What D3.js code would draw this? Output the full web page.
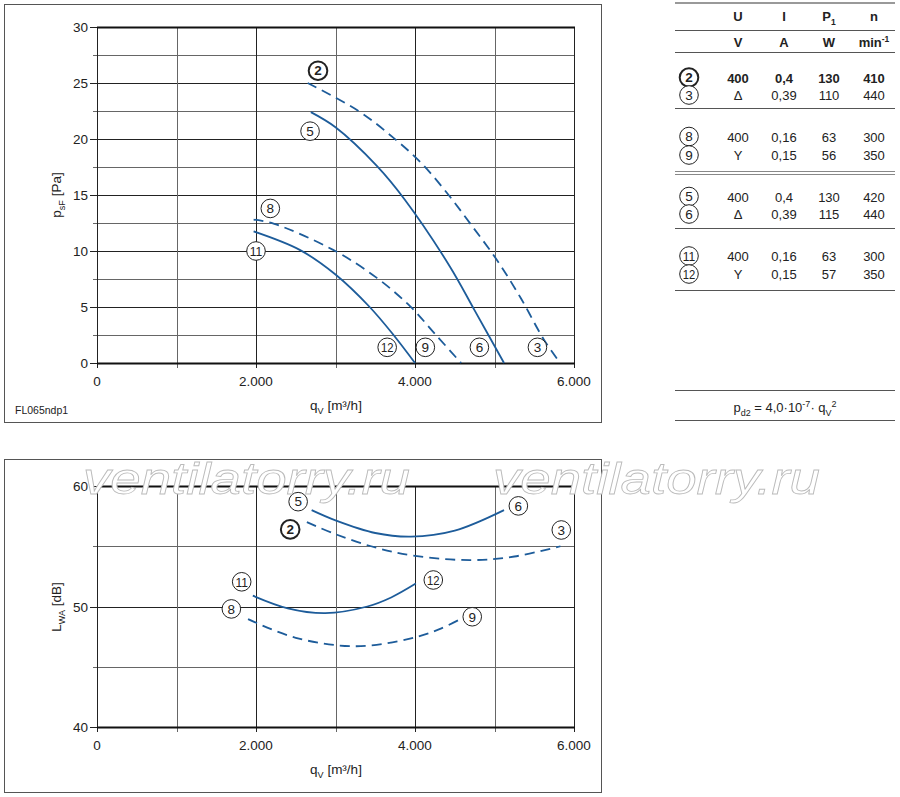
<!DOCTYPE html>
<html>
<head>
<meta charset="utf-8">
<script src="https://cdn.jsdelivr.net/npm/d3@7/dist/d3.min.js"></script>
<style>
  body { margin: 0; background: #fff; }
  svg { display: block; font-family: "Liberation Sans", Arial, sans-serif; }
</style>
</head>
<body>
<div class="js-container"></div>
<script>
;(function() {
  'use strict';

  // ---- data ----
  var qTicks = [0, 2000, 4000, 6000];
  var qTickLabels = ['0', '2.000', '4.000', '6.000'];
  var qGrid = [0, 1000, 2000, 3000, 4000, 5000, 6000];

  var pTicks = [0, 5, 10, 15, 20, 25, 30];
  var pGrid = [0, 2.5, 5, 7.5, 10, 12.5, 15, 17.5, 20, 22.5, 25, 27.5, 30];

  var lTicks = [40, 50, 60];
  var lGrid = [40, 45, 50, 55, 60];

  // static pressure psF [Pa] over qV [m3/h]
  var psf2to3 = [[2650, 25.0], [3290, 22.5], [3730, 20.1], [4080, 17.85], [4400, 15.2], [4700, 12.4], [5030, 9.2], [5330, 5.8], [5620, 2.1], [5810, 0.15]];
  var psf5to6 = [[2690, 22.4], [3000, 21.05], [3520, 17.6], [3870, 14.6], [4440, 8.6], [4750, 4.7], [5120, 0]];
  var psf8to9 = [[1970, 12.8], [2220, 12.45], [2970, 10.1], [3520, 7.6], [3940, 5.05], [4270, 2.45], [4580, 0]];
  var psf11to12 = [[1970, 11.75], [2550, 10.1], [3000, 7.9], [3430, 5.0], [3730, 2.5], [4000, 0]];

  // sound power LWA [dB] over qV [m3/h]
  var lwa2to3 = [[2640, 57.0], [3000, 56.0], [3500, 54.9], [4000, 54.2], [4700, 53.85], [5250, 54.15], [5830, 55.0]];
  var lwa5to6 = [[2700, 58.0], [3000, 57.15], [3500, 56.1], [3950, 55.8], [4500, 56.3], [5120, 58.0]];
  var lwa8to9 = [[1900, 48.95], [2500, 47.4], [3260, 46.7], [3950, 47.35], [4300, 48.1], [4600, 49.05]];
  var lwa11to12 = [[1960, 50.9], [2400, 49.85], [2870, 49.45], [3400, 50.0], [3700, 50.75], [4010, 51.9]];

  var psfLabels = [
    {id: '2', q: 2780, v: 26.1, bold: true},
    {id: '5', q: 2680, v: 20.7},
    {id: '8', q: 2180, v: 13.8},
    {id: '11', q: 2000, v: 10.0},
    {id: '12', q: 3650, v: 1.4},
    {id: '9', q: 4130, v: 1.4},
    {id: '6', q: 4810, v: 1.4},
    {id: '3', q: 5540, v: 1.4}
  ];
  var lwaLabels = [
    {id: '5', q: 2530, v: 58.7},
    {id: '6', q: 5300, v: 58.35},
    {id: '2', q: 2430, v: 56.4, bold: true},
    {id: '3', q: 5840, v: 56.35},
    {id: '11', q: 1820, v: 52.05},
    {id: '12', q: 4230, v: 52.2},
    {id: '8', q: 1690, v: 49.8},
    {id: '9', q: 4720, v: 49.15}
  ];

  // operating table
  var tableIds = ['2', '3', '8', '9', '5', '6', '11', '12'];
  var tableU = ['400', '\u0394', '400', 'Y', '400', '\u0394', '400', 'Y'];
  var tableI = ['0,4', '0,39', '0,16', '0,15', '0,4', '0,39', '0,16', '0,15'];
  var tableP = ['130', '110', '63', '56', '130', '115', '63', '57'];
  var tableN = ['410', '440', '300', '350', '420', '440', '300', '350'];

  var blue = '#1d5c9a';
  var ink = '#222';

  var svg = d3.select('.js-container').append('svg')
      .attr('width', 900)
      .attr('height', 797);

  var x = d3.scaleLinear().domain([0, 6000]).range([97, 574]);

  // ---- frames ----
  svg.append('rect').attr('x', 4.5).attr('y', 4.5).attr('width', 597).attr('height', 418)
      .attr('fill', 'none').attr('stroke', '#555');
  svg.append('rect').attr('x', 4.5).attr('y', 459.5).attr('width', 597).attr('height', 333)
      .attr('fill', 'none').attr('stroke', '#555');

  /**
   * Draws grid, ticks and tick labels for one chart.
   */
  function drawGrid(y, grid, ticks, majorStep) {
    var g = svg.append('g');
    var y0 = y.range()[0], y1 = y.range()[1];

    g.selectAll('.h').data(grid).enter().append('line')
        .attr('x1', function(d) { return ticks.indexOf(d) >= 0 ? 90 : 93; })
        .attr('x2', x(6000))
        .attr('y1', function(d) { return Math.round(y(d)) + 0.5; })
        .attr('y2', function(d) { return Math.round(y(d)) + 0.5; })
        .attr('stroke', function(d) { return d % majorStep === 0 ? '#222' : '#666'; })
        .attr('stroke-width', 1);

    g.selectAll('.v').data(qGrid).enter().append('line')
        .attr('x1', function(d) { return Math.round(x(d)) + 0.5; })
        .attr('x2', function(d) { return Math.round(x(d)) + 0.5; })
        .attr('y1', y1)
        .attr('y2', y0 + 5)
        .attr('stroke', function(d) { return d % 2000 === 0 ? '#222' : '#666'; })
        .attr('stroke-width', 1);

    // heavier top and bottom border
    g.append('line').attr('x1', x(0)).attr('x2', x(6000) + 1)
        .attr('y1', y1 + 0.5).attr('y2', y1 + 0.5).attr('stroke', '#111').attr('stroke-width', 2);
    g.append('line').attr('x1', x(0)).attr('x2', x(6000) + 1)
        .attr('y1', y0 + 0.5).attr('y2', y0 + 0.5).attr('stroke', '#111').attr('stroke-width', 2);

    g.selectAll('.yl').data(ticks).enter().append('text')
        .attr('x', 88)
        .attr('y', function(d) { return y(d) + 5; })
        .attr('text-anchor', 'end')
        .attr('font-size', 13.5)
        .attr('fill', ink)
        .text(function(d) { return d; });

    g.selectAll('.xl').data(qTicks).enter().append('text')
        .attr('x', function(d) { return x(d); })
        .attr('y', y0 + 23)
        .attr('text-anchor', 'middle')
        .attr('font-size', 13.5)
        .attr('fill', ink)
        .text(function(d, i) { return qTickLabels[i]; });

    var t = g.append('text')
        .attr('x', 336)
        .attr('y', y0 + 47)
        .attr('text-anchor', 'middle')
        .attr('font-size', 13.5)
        .attr('fill', ink);
    t.append('tspan').text('q');
    t.append('tspan').attr('font-size', 9).attr('dy', 4).text('V');
    t.append('tspan').attr('dy', -4).text(' [m\u00b3/h]');
  }

  function drawYTitle(cx, cy, main, sub, rest) {
    var t = svg.append('text')
        .attr('transform', 'translate(' + cx + ',' + cy + ') rotate(-90)')
        .attr('text-anchor', 'middle')
        .attr('font-size', 13.5)
        .attr('fill', ink);
    t.append('tspan').text(main);
    t.append('tspan').attr('font-size', 9).attr('dy', 4).text(sub);
    t.append('tspan').attr('dy', -4).text(rest);
  }

  function drawCurve(y, pts, dashed) {
    var line = d3.line()
        .x(function(d) { return x(d[0]); })
        .y(function(d) { return y(d[1]); })
        .curve(d3.curveCatmullRom.alpha(0.5));
    svg.append('path')
        .datum(pts)
        .attr('d', line)
        .attr('fill', 'none')
        .attr('stroke', blue)
        .attr('stroke-width', 1.8)
        .attr('stroke-dasharray', dashed ? '10,6' : null);
  }

  function drawBadge(cx, cy, id, bold) {
    svg.append('circle')
        .attr('cx', cx).attr('cy', cy).attr('r', 9.3)
        .attr('fill', '#fff')
        .attr('stroke', ink)
        .attr('stroke-width', bold ? 2 : 1);
    var t = svg.append('text')
        .attr('x', cx).attr('y', cy + 4.8)
        .attr('text-anchor', 'middle')
        .attr('font-size', 13.5)
        .attr('font-weight', bold ? 'bold' : 'normal')
        .attr('fill', ink)
        .text(id);
    if (id.length > 1) {
      t.attr('textLength', 12.5).attr('lengthAdjust', 'spacingAndGlyphs');
    }
  }

  function drawLabels(y, labels) {
    labels.forEach(function(d) {
      drawBadge(x(d.q), y(d.v), d.id, d.bold);
    });
  }

  // ---- top chart: static pressure ----
  var yP = d3.scaleLinear().domain([0, 30]).range([363, 27]);
  drawGrid(yP, pGrid, pTicks, 5);
  drawYTitle(61, 195, 'p', 'sF', ' [Pa]');
  drawCurve(yP, psf2to3, true);
  drawCurve(yP, psf5to6, false);
  drawCurve(yP, psf8to9, true);
  drawCurve(yP, psf11to12, false);
  drawLabels(yP, psfLabels);

  svg.append('text')
      .attr('x', 15).attr('y', 414)
      .attr('font-size', 10.5)
      .attr('fill', ink)
      .text('FL065ndp1');

  // ---- bottom chart: sound power ----
  var yL = d3.scaleLinear().domain([40, 60]).range([727, 486]);
  drawGrid(yL, lGrid, lTicks, 10);
  drawYTitle(61, 607, 'L', 'WA', ' [dB]');
  drawCurve(yL, lwa2to3, true);
  drawCurve(yL, lwa5to6, false);
  drawCurve(yL, lwa8to9, true);
  drawCurve(yL, lwa11to12, false);
  drawLabels(yL, lwaLabels);

  // watermark, outlined letters over the chart
  [83, 493].forEach(function(wx) {
    svg.append('text')
        .attr('x', wx).attr('y', 494)
        .attr('font-size', 45)
        .attr('font-style', 'italic')
        .attr('fill', '#fff')
        .attr('stroke', '#bbb')
        .attr('stroke-width', 0.8)
        .attr('textLength', 327)
        .attr('lengthAdjust', 'spacingAndGlyphs')
        .text('ventilatorry.ru');
  });

  // ---- table ----
  var colX = [689, 738, 784, 829, 874];
  var rowY = [77.5, 95, 136.5, 155, 196.5, 214, 256, 274];
  var tbl = svg.append('g').attr('font-size', 13).attr('fill', ink);

  function hline(yy, color, w) {
    tbl.append('line').attr('x1', 675).attr('x2', 895)
        .attr('y1', yy).attr('y2', yy)
        .attr('stroke', color).attr('stroke-width', w || 1);
  }
  hline(3, '#999', 2);
  hline(30.5, '#555');
  hline(52.5, '#555');
  hline(108.5, '#555');
  hline(171.5, '#888');
  hline(174.5, '#888');
  hline(228.5, '#555');
  hline(290.5, '#555');
  hline(390.5, '#555');
  hline(420.5, '#555');

  var head = ['U', 'I', 'P', 'n'];
  head.forEach(function(h, i) {
    var t = tbl.append('text').attr('x', colX[i + 1]).attr('y', 21)
        .attr('text-anchor', 'middle').attr('font-weight', 'bold');
    t.append('tspan').text(h);
    if (h === 'P') t.append('tspan').attr('font-size', 8.5).attr('dy', 4).text('1');
  });
  var units = ['V', 'A', 'W', 'min'];
  units.forEach(function(u, i) {
    var t = tbl.append('text').attr('x', colX[i + 1]).attr('y', 47)
        .attr('text-anchor', 'middle').attr('font-weight', 'bold');
    t.append('tspan').text(u);
    if (u === 'min') t.append('tspan').attr('font-size', 8.5).attr('dy', -5).text('-1');
  });

  var cols = [tableU, tableI, tableP, tableN];
  tableIds.forEach(function(id, r) {
    var bold = r === 0;
    drawBadge(colX[0], rowY[r], id, bold);
    cols.forEach(function(col, c) {
      tbl.append('text')
          .attr('x', colX[c + 1])
          .attr('y', rowY[r] + 5)
          .attr('text-anchor', 'middle')
          .attr('font-weight', bold ? 'bold' : 'normal')
          .text(col[r]);
    });
  });

  var f = tbl.append('text').attr('x', 785).attr('y', 412)
      .attr('text-anchor', 'middle').attr('font-size', 13);
  f.append('tspan').text('p');
  f.append('tspan').attr('font-size', 9).attr('dy', 4).text('d2');
  f.append('tspan').attr('dy', -4).text(' = 4,0\u00b710');
  f.append('tspan').attr('font-size', 9).attr('dy', -5).text('-7');
  f.append('tspan').attr('dy', 5).text('\u00b7 q');
  f.append('tspan').attr('font-size', 9).attr('dy', 4).text('V');
  f.append('tspan').attr('font-size', 9).attr('dy', -9).text('2');

}());
</script>
</body>
</html>
